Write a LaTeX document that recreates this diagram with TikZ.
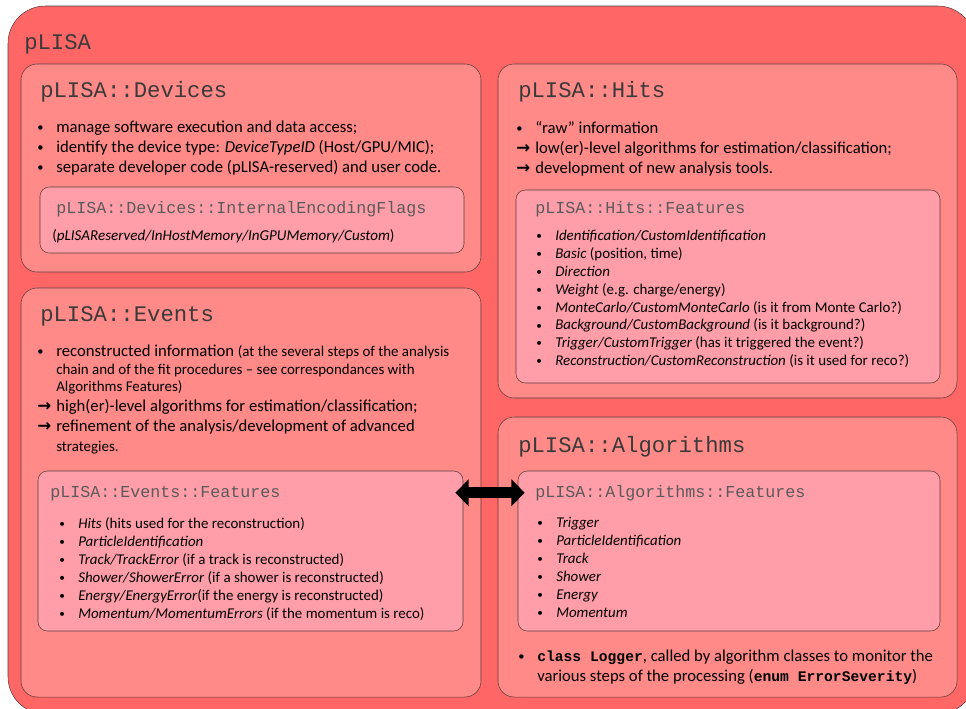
\documentclass[tikz,border=0pt]{standalone}
\usepackage{fontspec}
\setmainfont{Carlito}
\setmonofont{Liberation Mono}
\newfontfamily\symfont{DejaVu Sans}
\usetikzlibrary{arrows.meta,positioning,fit}
\definecolor{outerred}{HTML}{FF6666}
\definecolor{midred}{HTML}{FF8A87}
\definecolor{innerred}{HTML}{FF9EA8}
\definecolor{edge}{HTML}{5A3C3C}
\definecolor{titlegray}{HTML}{3A3A3A}
\definecolor{subgray}{HTML}{5A5A5A}

\newcommand{\itm}{\makebox[14.25pt][l]{\raisebox{0.12ex}{\scalebox{0.75}{\textbullet}}}}
\newcommand{\arr}{\makebox[14.25pt][l]{{\symfont\bfseries →}}}
\newcommand{\ind}{\hspace*{14.25pt}}
\newcommand{\smalltxt}{\fontsize{11.2}{13.4}\selectfont}

\begin{document}
\begin{tikzpicture}[
      x=0.75pt, y=-0.75pt,
      outerbox/.style={draw=edge, fill=outerred, rounded corners=28pt, inner sep=0pt},
      pkgbox/.style={draw=edge, fill=midred, rounded corners=12pt, inner sep=0pt},
      featbox/.style={draw=edge, fill=innerred, rounded corners=7pt, inner sep=0pt},
      pkgtitle/.style={anchor=west, inner sep=0pt, text=titlegray,
                       font=\ttfamily\fontsize{16.7}{20}\selectfont},
      feattitle/.style={anchor=west, inner sep=0pt, text=subgray,
                        font=\ttfamily\fontsize{12.5}{15}\selectfont},
      bodytext/.style={anchor=north west, inner sep=0pt, align=left,
                       font=\fontsize{12.5}{15}\selectfont},
      listtext/.style={anchor=north west, inner sep=0pt, align=left,
                       font=\fontsize{11.2}{13.4}\selectfont},
      bigarrow/.style={{Triangle[length=10pt,width=19.5pt]}-{Triangle[length=10pt,width=19.5pt]},
                       line width=8.25pt, black}
    ]
      \useasboundingbox (0,0) rectangle (966,708);
      \clip (0,0) rectangle (966,708);

      % outer package
      \node[outerbox, fit={(8,6) (975,714)}] (plisa) {};
      \node[pkgtitle] (plisatitle) at (24,44) {pLISA};

      % Devices
      \node[pkgbox, fit={(21,64) (481,272)}] (devices) {};
      \node[pkgtitle] (devtitle) at (40,92) {pLISA::Devices};
      \node[bodytext] (devtext) at (37,121) {%
        \itm manage software execution and data access;\\
        \itm identify the device type: \textit{DeviceTypeID} (Host/GPU/MIC);\\
        \itm separate developer code (pLISA-reserved) and user code.};
      \node[featbox, fit={(40,187) (464,253)}] (flags) {};
      \node[feattitle] (flagstitle) at (56,209) {pLISA::Devices::InternalEncodingFlags};
      \node[listtext, anchor=west, font=\fontsize{11.3}{13.4}\selectfont] (flagstext) at (52,236)
        {(\textit{pLISAReserved/InHostMemory/InGPUMemory/Custom})};

      % Hits
      \node[pkgbox, fit={(498,64) (957,398)}] (hits) {};
      \node[pkgtitle] (hitstitle) at (518,92) {pLISA::Hits};
      \node[bodytext] (hitstext) at (516,121) {%
        \itm “raw” information\\
        \arr low(er)-level algorithms for estimation/classification;\\
        \arr development of new analysis tools.};
      \node[featbox, fit={(516,190) (940,383)}] (hitfeat) {};
      \node[feattitle] (hitfeattitle) at (535,209) {pLISA::Hits::Features};
      \node[listtext] (hitfeattext) at (536,230) {%
        \itm \textit{Identification/CustomIdentification}\\
        \itm \textit{Basic} (position, time)\\
        \itm \textit{Direction}\\
        \itm \textit{Weight} (e.g. charge/energy)\\
        \itm \textit{MonteCarlo/CustomMonteCarlo} (is it from Monte Carlo?)\\
        \itm \textit{Background/CustomBackground} (is it background?)\\
        \itm \textit{Trigger/CustomTrigger} (has it triggered the event?)\\
        \itm \textit{Reconstruction/CustomReconstruction} (is it used for reco?)};

      % Events
      \node[pkgbox, fit={(21,288) (481,697)}] (events) {};
      \node[pkgtitle] (evtitle) at (40,316) {pLISA::Events};
      \node[bodytext] (evtext) at (37,345) {%
        \itm reconstructed information {\smalltxt (at the several steps of the analysis}\\[-1.5pt]
        \ind{\smalltxt chain and of the fit procedures – see correspondances with}\\[-2.25pt]
        \ind{\smalltxt Algorithms Features)}\\
        \arr high(er)-level algorithms for estimation/classification;\\
        \arr refinement of the analysis/development of advanced\\
        \ind{\smalltxt strategies.}};
      \node[featbox, fit={(38,471) (463,631)}] (evfeat) {};
      \node[feattitle] (evfeattitle) at (50,494) {pLISA::Events::Features};
      \node[listtext, font=\fontsize{11.2}{13.5}\selectfont] (evfeattext) at (59,517) {%
        \itm \textit{Hits} (hits used for the reconstruction)\\
        \itm \textit{ParticleIdentification}\\
        \itm \textit{Track/TrackError} (if a track is reconstructed)\\
        \itm \textit{Shower/ShowerError} (if a shower is reconstructed)\\
        \itm \textit{Energy/EnergyError}(if the energy is reconstructed)\\
        \itm \textit{Momentum/MomentumErrors} (if the momentum is reco)};

      % Algorithms
      \node[pkgbox, fit={(498,417) (957,697)}] (algos) {};
      \node[pkgtitle] (algtitle) at (518,447) {pLISA::Algorithms};
      \node[featbox, fit={(518,471) (940,631)}] (algfeat) {};
      \node[feattitle] (algfeattitle) at (535,493) {pLISA::Algorithms::Features};
      \node[listtext, font=\fontsize{11.2}{13.5}\selectfont] (algfeattext) at (537,517) {%
        \itm \textit{Trigger}\\
        \itm \textit{ParticleIdentification}\\
        \itm \textit{Track}\\
        \itm \textit{Shower}\\
        \itm \textit{Energy}\\
        \itm \textit{Momentum}};
      \node[bodytext] (loggertext) at (518,650) {%
        \itm {\ttfamily\bfseries\fontsize{11}{13}\selectfont class Logger}, called by algorithm classes to monitor the\\
        \ind various steps of the processing ({\ttfamily\bfseries\fontsize{11}{13}\selectfont enum ErrorSeverity})};

      % Events <-> Algorithms features
      \draw[bigarrow] ([shift={(-8,22)}]evfeat.north east) -- ([shift={(7,22)}]algfeat.north west);
    \end{tikzpicture}
\end{document}
